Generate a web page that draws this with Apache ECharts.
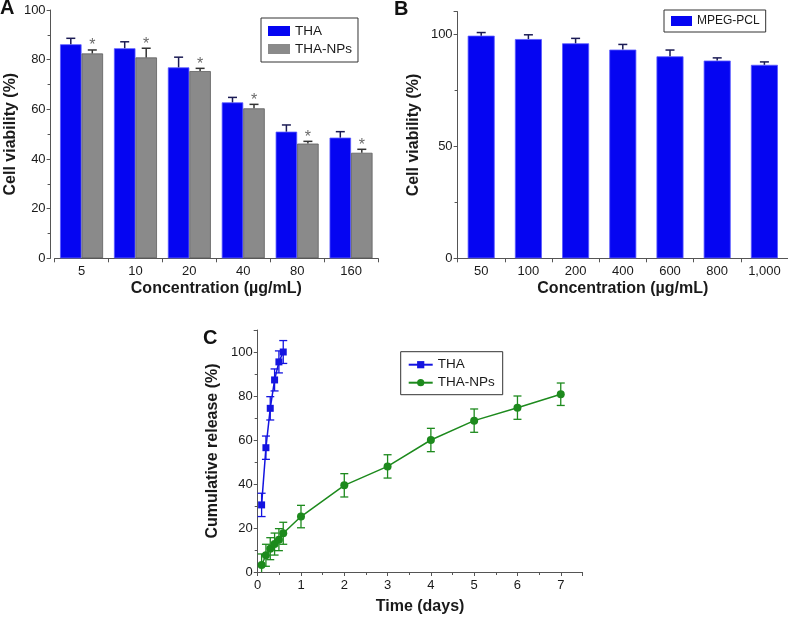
<!DOCTYPE html>
<html>
<head>
<meta charset="utf-8">
<script src="https://cdn.jsdelivr.net/npm/echarts@6/dist/echarts.min.js"></script>
<style>html,body{margin:0;padding:0;background:#fff}#c{width:788px;height:617px}</style>
</head>
<body>
<div id="c"></div>
<script>
// Panel A
var catsA = ['5', '10', '20', '40', '80', '160'];
var thaA = [86.2, 84.6, 76.9, 62.8, 51.0, 48.6];
var thaAErr = [2.4, 2.6, 4.1, 2.0, 2.7, 2.4];
var npA = [82.5, 80.9, 75.4, 60.4, 46.2, 42.5];
var npAErr = [1.4, 3.7, 1.1, 1.6, 0.9, 1.4];
// Panel B
var catsB = ['50', '100', '200', '400', '600', '800', '1,000'];
var mpegB = [99.3, 97.8, 95.9, 93.1, 90.1, 88.2, 86.3];
var mpegBErr = [1.4, 1.9, 2.2, 2.3, 2.8, 1.2, 1.3];
// Panel C
var thaT = [0.09, 0.19, 0.29, 0.39, 0.49, 0.59];
var thaC = [30.5, 56.5, 74.4, 87.3, 95.5, 100];
var thaCErr = [5.3, 5.3, 5.3, 5.0, 5.0, 5.2];
var npT = [0.09, 0.19, 0.29, 0.39, 0.49, 0.59, 1, 2, 3, 4, 5, 6, 7];
var npC = [3.2, 7.6, 10.6, 12.7, 14.7, 17.6, 25.2, 39.4, 48.0, 60.0, 68.8, 74.7, 80.8];
var npCErr = [5, 5, 5, 5, 5, 5, 5.1, 5.3, 5.3, 5.3, 5.3, 5.3, 5.1];

var FONT = '"Liberation Sans", Arial, sans-serif';
var AXC = '#555';
var TXT = '#1a1a1a';

function idx3(vals, errs) { return vals.map(function (v, i) { return [i, v, errs[i]]; }); }
function xy3(x, y, e) { return x.map(function (v, i) { return [v, y[i], e[i]]; }); }

function errUp(offset, color, star) {
  return function (params, api) {
    var i = api.value(0), v = api.value(1), e = api.value(2);
    var b = api.coord([i, v]), t = api.coord([i, v + e]);
    var cx = b[0] + offset;
    var ls = { stroke: color, lineWidth: 1.5 };
    var ch = [
      { type: 'line', shape: { x1: cx, y1: b[1], x2: cx, y2: t[1] }, style: ls },
      { type: 'line', shape: { x1: cx - 4.5, y1: t[1], x2: cx + 4.5, y2: t[1] }, style: ls }
    ];
    if (star) {
      ch.push({ type: 'text', x: cx, y: t[1] + 4, style: { text: '*', fill: '#6a6a6a', font: '16px ' + FONT, textAlign: 'center', textVerticalAlign: 'bottom' } });
    }
    return { type: 'group', children: ch };
  };
}
function errBoth(color) {
  return function (params, api) {
    var x = api.value(0), v = api.value(1), e = api.value(2);
    var t = api.coord([x, v + e]), b = api.coord([x, v - e]);
    var cx = t[0];
    var ls = { stroke: color, lineWidth: 1.3 };
    return { type: 'group', children: [
      { type: 'line', shape: { x1: cx, y1: t[1], x2: cx, y2: b[1] }, style: ls },
      { type: 'line', shape: { x1: cx - 4, y1: t[1], x2: cx + 4, y2: t[1] }, style: ls },
      { type: 'line', shape: { x1: cx - 4, y1: b[1], x2: cx + 4, y2: b[1] }, style: ls }
    ] };
  };
}

var axisLine = { show: true, lineStyle: { color: AXC, width: 1 } };
var axisTick = { show: true, length: 4, inside: false, lineStyle: { color: AXC } };
var minorTick = { show: true, splitNumber: 2, length: 3, lineStyle: { color: AXC } };
var lab = { color: TXT, fontSize: 13, fontFamily: FONT };
var nameStyle = { color: TXT, fontSize: 16, fontWeight: 'bold', fontFamily: FONT };

var BLUE = '#0505f2';
var GRAY = '#8a8a8a';
var GREEN = '#1d8a1d';
var LBLUE = '#1414e0';

var option = {
  animation: false,
  backgroundColor: '#fff',
  textStyle: { fontFamily: FONT },
  grid: [
    { left: 54.6, top: 10, width: 323.4, height: 248.3 },
    { left: 457.6, top: 11.7, width: 334.3, height: 246.6 },
    { left: 257.7, top: 330, width: 324.7, height: 242 }
  ],
  xAxis: [
    { gridIndex: 0, type: 'category', data: catsA, axisLine: axisLine, axisTick: axisTick, axisLabel: Object.assign({ margin: 7 }, lab),
      splitLine: { show: false }, name: 'Concentration (µg/mL)', nameLocation: 'middle', nameGap: 22, nameTextStyle: nameStyle },
    { gridIndex: 1, type: 'category', data: catsB, axisLine: axisLine, axisTick: axisTick, axisLabel: Object.assign({ margin: 7 }, lab),
      splitLine: { show: false }, name: 'Concentration (µg/mL)', nameLocation: 'middle', nameGap: 22, nameTextStyle: nameStyle },
    { gridIndex: 2, type: 'value', min: 0, max: 7.5, interval: 1, axisLine: axisLine, axisTick: axisTick, minorTick: minorTick,
      axisLabel: Object.assign({ margin: 7, showMaxLabel: false }, lab), splitLine: { show: false },
      name: 'Time (days)', nameLocation: 'middle', nameGap: 27, nameTextStyle: nameStyle }
  ],
  yAxis: [
    { gridIndex: 0, type: 'value', min: 0, max: 100, interval: 20, offset: 4, axisLine: axisLine, axisTick: axisTick, minorTick: minorTick,
      axisLabel: Object.assign({ margin: 5 }, lab), splitLine: { show: false },
      name: 'Cell viability (%)', nameLocation: 'middle', nameGap: 32, nameTextStyle: nameStyle },
    { gridIndex: 1, type: 'value', min: 0, max: 110, interval: 50, axisLine: axisLine, axisTick: axisTick, minorTick: minorTick,
      axisLabel: Object.assign({ margin: 5, showMaxLabel: false }, lab), splitLine: { show: false },
      name: 'Cell viability (%)', nameLocation: 'middle', nameGap: 36, nameTextStyle: nameStyle },
    { gridIndex: 2, type: 'value', min: 0, max: 110, interval: 20, axisLine: axisLine, axisTick: axisTick, minorTick: minorTick,
      axisLabel: Object.assign({ margin: 5, showMaxLabel: false }, lab), splitLine: { show: false },
      name: 'Cumulative release (%)', nameLocation: 'middle', nameGap: 37, nameTextStyle: nameStyle }
  ],
  legend: [
    { left: 261, top: 18, orient: 'vertical', data: ['THA', 'THA-NPs'], padding: [6, 6, 6, 7], itemGap: 4, itemWidth: 22, itemHeight: 10,
      icon: 'rect', itemStyle: { borderWidth: 0 },
      borderColor: '#333', borderWidth: 1, borderRadius: 0, textStyle: { color: TXT, fontSize: 13.5, fontFamily: FONT }, selectedMode: false },
    { left: 664, top: 10, orient: 'vertical', data: ['MPEG-PCL'], padding: [5, 6, 5, 7], itemWidth: 21, itemHeight: 10,
      icon: 'rect', itemStyle: { borderWidth: 0 },
      borderColor: '#333', borderWidth: 1, textStyle: { color: TXT, fontSize: 12, fontFamily: FONT }, selectedMode: false },
    { left: 400.7, top: 351.7, orient: 'vertical', data: ['THA (C)', 'THA-NPs (C)'], padding: [6, 8, 5, 7], itemGap: 4, itemWidth: 24, itemHeight: 9,
      borderColor: '#333', borderWidth: 1, textStyle: { color: TXT, fontSize: 13.5, fontFamily: FONT }, selectedMode: false,
      formatter: function (n) { return n.replace(' (C)', ''); } }
  ],
  graphic: [
    { type: 'text', x: 0, y: 8, style: { text: 'A', font: 'bold 20px ' + FONT, fill: '#111', textVerticalAlign: 'middle' } },
    { type: 'text', x: 394, y: 9, style: { text: 'B', font: 'bold 20px ' + FONT, fill: '#111', textVerticalAlign: 'middle' } },
    { type: 'text', x: 203, y: 338, style: { text: 'C', font: 'bold 20px ' + FONT, fill: '#111', textVerticalAlign: 'middle' } }
  ],
  series: [
    { name: 'THA', type: 'bar', xAxisIndex: 0, yAxisIndex: 0, data: thaA, barWidth: 21.5, barGap: '0%',
      itemStyle: { color: BLUE, borderColor: '#5a5aff', borderWidth: 0.8 } },
    { name: 'THA-NPs', type: 'bar', xAxisIndex: 0, yAxisIndex: 0, data: npA, barWidth: 21.5, barGap: '0%',
      itemStyle: { color: GRAY, borderColor: '#5e5e5e', borderWidth: 0.8 } },
    { name: 'errA1', type: 'custom', xAxisIndex: 0, yAxisIndex: 0, data: idx3(thaA, thaAErr), renderItem: errUp(-10.75, '#1b1b55', false), z: 3 },
    { name: 'errA2', type: 'custom', xAxisIndex: 0, yAxisIndex: 0, data: idx3(npA, npAErr), renderItem: errUp(10.75, '#333', true), z: 3 },
    { name: 'MPEG-PCL', type: 'bar', xAxisIndex: 1, yAxisIndex: 1, data: mpegB, barWidth: 27,
      itemStyle: { color: BLUE, borderColor: '#5a5aff', borderWidth: 0.8 } },
    { name: 'errB', type: 'custom', xAxisIndex: 1, yAxisIndex: 1, data: idx3(mpegB, mpegBErr), renderItem: errUp(0, '#1b1b55', false), z: 3 },
    { name: 'THA (C)', type: 'line', xAxisIndex: 2, yAxisIndex: 2, data: thaT.map(function (t, i) { return [t, thaC[i]]; }),
      symbol: 'rect', symbolSize: 7, lineStyle: { color: LBLUE, width: 1.5 }, itemStyle: { color: LBLUE } },
    { name: 'THA-NPs (C)', type: 'line', xAxisIndex: 2, yAxisIndex: 2, data: npT.map(function (t, i) { return [t, npC[i]]; }),
      symbol: 'circle', symbolSize: 8, lineStyle: { color: GREEN, width: 1.5 }, itemStyle: { color: GREEN } },
    { name: 'errC1', type: 'custom', xAxisIndex: 2, yAxisIndex: 2, data: xy3(thaT, thaC, thaCErr), renderItem: errBoth(LBLUE), clip: true, z: 3 },
    { name: 'errC2', type: 'custom', xAxisIndex: 2, yAxisIndex: 2, data: xy3(npT, npC, npCErr), renderItem: errBoth(GREEN), clip: true, z: 3 }
  ]
};

var chart = echarts.init(document.getElementById('c'), null, { renderer: 'canvas' });
chart.setOption(option);
</script>
</body>
</html>
